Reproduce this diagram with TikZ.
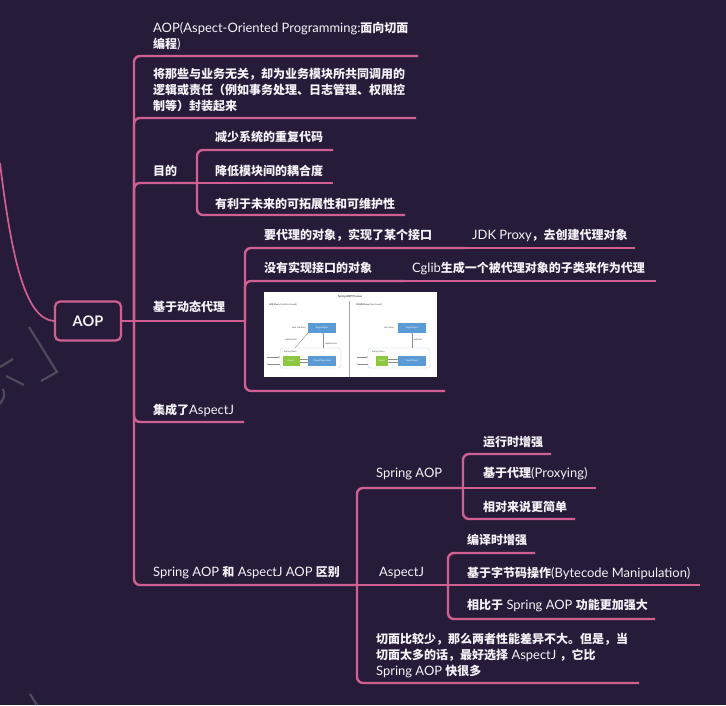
\documentclass[tikz,border=0pt]{standalone}
\usepackage{fontspec}
\setmainfont{Lato}
\newfontfamily\la{Lato}[Scale=1.08]
\newfontfamily\zhf{Noto Sans CJK SC}
\usetikzlibrary{arrows.meta}
\definecolor{bgc}{HTML}{261C3A}
\definecolor{pinkc}{HTML}{D0608F}
\definecolor{wmc}{HTML}{4F4A5A}
\definecolor{boxblue}{HTML}{5B9BD5}
\definecolor{boxgreen}{HTML}{8DC63F}
\definecolor{txt}{HTML}{F4F2F6}
\newcommand\lt[1]{{\la\mdseries #1}}
\tikzset{
  br/.style={draw=pinkc, line width=2.4pt, rounded corners=6pt},
  topic/.style={anchor=west, inner sep=0pt, text=txt, align=left,
    font={\zhf\bfseries\fontsize{12}{16}\selectfont}},
  root/.style={draw=pinkc, line width=2.2pt, rounded corners=5pt, fill=bgc,
    minimum width=66pt, minimum height=39pt, text=txt, inner sep=0pt,
    font={\la\bfseries\fontsize{13.5}{16}\selectfont}},
  wm/.style={draw=wmc, line width=2.2pt},
  tinyt/.style={inner sep=0pt, text=black!75, font={\la\fontsize{2.1}{2.6}\selectfont}},
  bluebox/.style={fill=boxblue, inner sep=0pt, minimum width=28pt, minimum height=10pt,
    text=white, font={\la\fontsize{2.1}{2.6}\selectfont}},
  greenbox/.style={fill=boxgreen, inner sep=0pt, minimum width=17pt, minimum height=10pt,
    text=white, font={\la\fontsize{2.1}{2.6}\selectfont}},
  proxybox/.style={draw=boxblue!40, line width=0.4pt, rounded corners=3pt, inner sep=0pt},
  thinl/.style={draw=black!45, line width=0.35pt, -{Stealth[length=1.2pt,width=1.2pt]}},
}
\begin{document}
\begin{tikzpicture}[x=1pt,y=-1pt]
\fill[bgc] (0,0) rectangle (726,705);
\useasboundingbox (0,0) rectangle (726,705);

% watermark fragments
\draw[wm] (29,327) -- (57,372) -- (41,381);
\draw[wm] (0,367) -- (13,359);
\draw[wm] (6,376) -- (24,385);
\draw[wm] (3,389) .. controls (5,396) .. (0,404);
\draw[wm] (30,694) -- (37,705);

% root
\node[root] (aop) at (88,321) {AOP};
\coordinate (cs) at (0,163);
\draw[pinkc, line width=1.7pt] (cs) .. controls (12,262) and (26,319) .. (aop.west);
\coordinate (j0) at (134,321);
\draw[br] (aop.east) -- (j0);

% branch 1
\node[topic] (t1) at (153,36) {\lt{AOP(Aspect-Oriented Programming:}面向切面\\编程\lt{)}};
\coordinate (e1) at (418,56);
\draw[br] (j0) |- (e1);

% branch 2
\node[topic] (t2) at (153,90) {将那些与业务无关，却为业务模块所共同调用的\\逻辑或责任（例如事务处理、日志管理、权限控\\制等）封装起来};
\coordinate (e2) at (416,118);
\draw[br] (j0) |- (e2);

% branch 3
\node[topic] (t3) at (153,171) {目的};
\coordinate (j3) at (197,183);
\draw[br] (j0) |- (j3);
\node[topic] (t3a) at (215,137) {减少系统的重复代码};
\coordinate (e3a) at (333,150);
\draw[br] (j3) |- (e3a);
\node[topic] (t3b) at (215,171) {降低模块间的耦合度};
\coordinate (e3b) at (333,183);
\draw[br] (j3) -- (e3b);
\node[topic] (t3c) at (215,204) {有利于未来的可拓展性和可维护性};
\coordinate (e3c) at (405,215);
\draw[br] (j3) |- (e3c);

% branch 4
\node[topic] (t4) at (153,307) {基于动态代理};
\coordinate (j4) at (245,321);
\draw[br] (j0) -- (j4);
\node[topic] (t4a) at (264,235) {要代理的对象，实现了某个接口};
\coordinate (j4a) at (465,248);
\draw[br] (j4) |- (j4a);
\node[topic] (t4a1) at (472,235) {\lt{JDK Proxy}，去创建代理对象};
\coordinate (e4a1) at (635,248);
\draw[br] (j4a) -- (e4a1);
\node[topic] (t4b) at (264,268) {没有实现接口的对象};
\coordinate (j4b) at (405,281);
\draw[br] (j4) |- (j4b);
\node[topic] (t4b1) at (412,268) {\lt{Cglib}生成一个被代理对象的子类来作为代理};
\coordinate (e4b1) at (656,281);
\draw[br] (j4b) -- (e4b1);
\coordinate (e4c) at (445,391);
\draw[br] (j4) |- (e4c);

% embedded picture
\node[fill=white, inner sep=0pt, minimum width=173pt, minimum height=85pt] (img) at (350.5,334.5) {};
\node[tinyt, font={\la\bfseries\fontsize{2.5}{3}\selectfont}] (ititle) at (350,297) {Spring AOP Process};
\draw[black!35, line width=0.4pt] (349,301) -- (349,377);
\node[tinyt, anchor=west] (ljdk) at (269,305) {\textbf{JDK Proxy} (interface based)};
\node[bluebox] (lto) at (322,328) {TargetObject};
\node[tinyt, anchor=east] (lji) at (306,328) {Java Interface};
\node[proxybox, minimum width=61pt, minimum height=20pt] (lsp) at (310.5,358) {};
\node[tinyt, anchor=west] (lspl) at (284,351.5) {Spring Proxy};
\node[greenbox] (lasp) at (291,361) {Aspect};
\node[bluebox] (ltoi) at (322,361) {TargetObjectImpl};
\draw[thinl] (295,348) -- (lto.south west);
\draw[thinl] (323,348) -- (323,333);
\node[tinyt] (limp1) at (291,340) {Implements};
\node[tinyt] (limp2) at (331,344) {Implements};
\draw[thinl] (lasp.east |- 0,359.5) -- (ltoi.west |- 0,359.5);
\draw[thinl] (ltoi.west |- 0,362.5) -- (lasp.east |- 0,362.5);
\coordinate (la1) at (267,357);
\coordinate (la2) at (267,364);
\draw[thinl] (la1) -- (lsp.west |- la1);
\draw[thinl] (lsp.west |- la2) -- (la2);

\node[tinyt, anchor=west] (lcg) at (356,305) {\textbf{CGLIB Proxy} (class based)};
\node[bluebox] (rto) at (412,328) {TargetObject};
\node[tinyt, anchor=east] (rjc) at (394,328) {Java class};
\node[proxybox, minimum width=62pt, minimum height=20pt] (rsp) at (399,358) {};
\node[tinyt, anchor=west] (rspl) at (372,351.5) {Spring Proxy};
\node[greenbox, minimum width=12pt] (rasp) at (382,361) {Aspect};
\node[bluebox] (rtoi) at (412,361) {TargetObject};
\draw[thinl] (412,348) -- (412,333);
\node[tinyt] (rext) at (418,340) {extends};
\draw[thinl] (rasp.east |- 0,359.5) -- (rtoi.west |- 0,359.5);
\draw[thinl] (rtoi.west |- 0,362.5) -- (rasp.east |- 0,362.5);
\coordinate (ra1) at (357,357);
\coordinate (ra2) at (357,364);
\draw[thinl] (ra1) -- (rsp.west |- ra1);
\draw[thinl] (rsp.west |- ra2) -- (ra2);

% branch 5
\node[topic] (t5) at (153,410) {集成了\lt{AspectJ}};
\coordinate (e5) at (244,422);
\draw[br] (j0) |- (e5);

% branch 6
\node[topic] (t6) at (153,573) {\lt{Spring AOP }和\lt{ AspectJ AOP }区别};
\coordinate (j6) at (357,585);
\draw[br] (j0) |- (j6);

\node[topic] (t6a) at (376,474) {\lt{Spring AOP}};
\coordinate (j6a) at (463,488);
\draw[br] (j6) |- (j6a);
\node[topic] (t6a1) at (483,442) {运行时增强};
\coordinate (e6a1) at (551,454);
\draw[br] (j6a) |- (e6a1);
\node[topic] (t6a2) at (483,474) {基于代理\lt{(Proxying)}};
\coordinate (e6a2) at (596,488);
\draw[br] (j6a) -- (e6a2);
\node[topic] (t6a3) at (483,507) {相对来说更简单};
\coordinate (e6a3) at (575,519);
\draw[br] (j6a) |- (e6a3);

\node[topic] (t6b) at (379,573) {\lt{AspectJ}};
\coordinate (j6b) at (448,585);
\draw[br] (j6) -- (j6b);
\node[topic] (t6b1) at (467,540) {编译时增强};
\coordinate (e6b1) at (535,553);
\draw[br] (j6b) |- (e6b1);
\node[topic] (t6b2) at (467,573) {基于字节码操作\lt{(Bytecode Manipulation)}};
\coordinate (e6b2) at (700,585);
\draw[br] (j6b) -- (e6b2);
\node[topic] (t6b3) at (467,606) {相比于\lt{ Spring AOP }功能更加强大};
\coordinate (e6b3) at (655,619);
\draw[br] (j6b) |- (e6b3);

\node[topic] (t6c) at (376,655) {切面比较少，那么两者性能差异不大。但是，当\\切面太多的话，最好选择\lt{ AspectJ }，它比\\\lt{Spring AOP }快很多};
\coordinate (e6c) at (639,683);
\draw[br] (j6) |- (e6c);
\end{tikzpicture}
\end{document}
